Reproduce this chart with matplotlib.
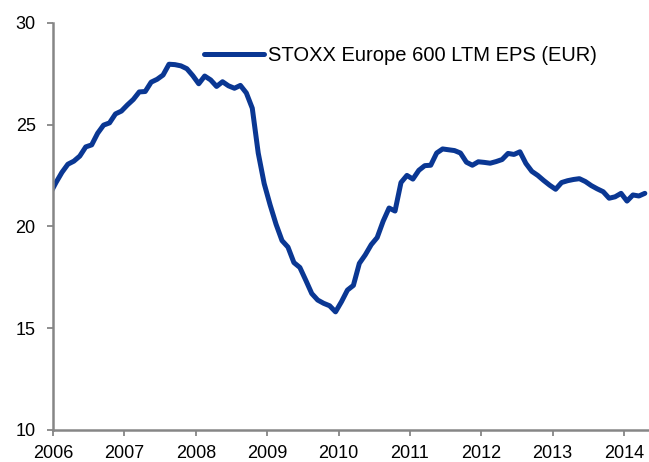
import numpy as np
import matplotlib
matplotlib.use("Agg")
import matplotlib.pyplot as plt

plt.rcParams['font.family'] = ['Liberation Sans', 'DejaVu Sans']

# monthly LTM EPS (mid-month), Dec 2005 - Apr 2014
eps = [
    21.6,                                                                            # Dec 2005
    22.15, 22.65, 23.05, 23.2, 23.45, 23.9, 24.0, 24.57, 24.97, 25.08, 25.52, 25.66, # 2006
    25.96, 26.23, 26.6, 26.62, 27.08, 27.22, 27.43, 27.96, 27.94, 27.88, 27.74, 27.4, # 2007
    27.0, 27.38, 27.19, 26.87, 27.1, 26.9, 26.78, 26.92, 26.55, 25.8, 23.6, 22.1,    # 2008
    21.05, 20.1, 19.3, 18.98, 18.22, 17.98, 17.35, 16.7, 16.38, 16.22, 16.1, 15.8,   # 2009
    16.3, 16.87, 17.1, 18.18, 18.6, 19.1, 19.45, 20.25, 20.9, 20.75, 22.15, 22.5,    # 2010
    22.32, 22.75, 22.98, 23.0, 23.6, 23.8, 23.76, 23.72, 23.6, 23.15, 23.0, 23.17,   # 2011
    23.14, 23.1, 23.18, 23.28, 23.58, 23.53, 23.66, 23.09, 22.7, 22.5, 22.25, 22.02, # 2012
    21.82, 22.15, 22.24, 22.3, 22.34, 22.2, 22.0, 21.84, 21.7, 21.38, 21.45, 21.62,  # 2013
    21.24, 21.54, 21.49, 21.62,                                                      # 2014
]
years = [2006, 2007, 2008, 2009, 2010, 2011, 2012, 2013, 2014]
label = "STOXX Europe 600 LTM EPS (EUR)"

t = 2006 + (np.arange(len(eps)) - 0.5) / 12.0

fig = plt.figure(figsize=(6.49, 4.62), dpi=100)
ax = fig.add_axes([0.0817, 0.0693, 0.9183, 0.8816])

ax.plot(t, eps, color='#0A3793', lw=3.6, solid_capstyle='round',
        solid_joinstyle='round', label=label)

ax.set_xlim(2006, 2014.35)
ax.set_ylim(10, 30)
ax.set_xticks(years)
ax.set_yticks([10, 15, 20, 25, 30])

for s in ['top', 'right']:
    ax.spines[s].set_visible(False)
for s in ['left', 'bottom']:
    ax.spines[s].set_color('#868686')
    ax.spines[s].set_linewidth(1.8)

ax.tick_params(axis='both', colors='#868686', width=1.3, length=4.5,
               labelcolor='black', labelsize=13)
ax.tick_params(axis='y', pad=8)
ax.tick_params(axis='x', pad=6)

leg = ax.legend(loc='upper left', bbox_to_anchor=(0.24, 0.962), frameon=False,
                fontsize=14.5, handlelength=2.95, handletextpad=0.22,
                borderaxespad=0)

fig.savefig('out.png', dpi=100)
